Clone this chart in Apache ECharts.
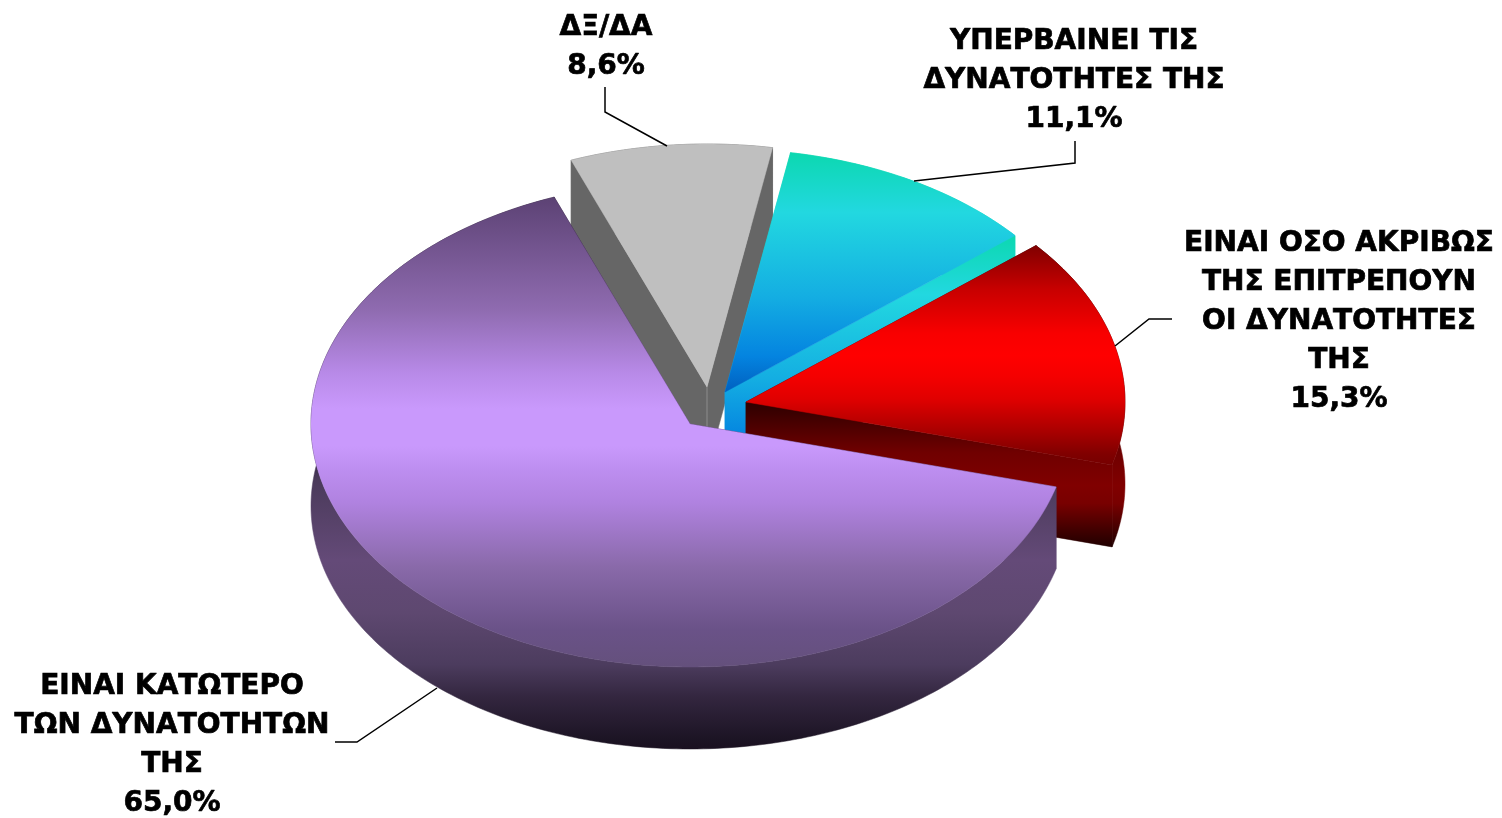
<!DOCTYPE html>
<html>
<head>
<meta charset="utf-8">
<style>html,body{margin:0;padding:0;background:#fff}#c{width:1502px;height:818px}</style>
<script src="https://cdn.jsdelivr.net/npm/echarts@6/dist/echarts.min.js"></script>
</head>
<body>
<div id="c"></div>
<script>
// Data: clockwise from the first slice, which is also the back-to-front paint order
const categories = ['ΔΞ/ΔΑ', 'ΥΠΕΡΒΑΙΝΕΙ ΤΙΣ\nΔΥΝΑΤΟΤΗΤΕΣ ΤΗΣ', 'ΕΙΝΑΙ ΟΣΟ ΑΚΡΙΒΩΣ\nΤΗΣ ΕΠΙΤΡΕΠΟΥΝ\nΟΙ ΔΥΝΑΤΟΤΗΤΕΣ\nΤΗΣ', 'ΕΙΝΑΙ ΚΑΤΩΤΕΡΟ\nΤΩΝ ΔΥΝΑΤΟΤΗΤΩΝ\nΤΗΣ'];
const percentages = [8.6, 11.1, 15.3, 65.0];

// Layout and style
const START_DEG = -21, RX = 379, RY = 243, DEPTH = 82;
const apex = [[707, 387], [725, 392], [746, 402], [690, 424]];
const labelPos = [[606, 46], [1074, 80], [1339, 321], [172, 744]];
const leaders = [
  [[605, 87], [605, 112], [667, 146]],
  [[1075, 141], [1075, 163], [914, 181]],
  [[1172, 319], [1149, 319], [1115, 346]],
  [[335, 742], [357, 742], [437, 688]]
];
const topStops = [
  [[0, '#bfbfbf'], [1, '#bfbfbf']],
  [[0, '#0cd8b0'], [0.25, '#22d8e0'], [0.6, '#14aee2'], [0.85, '#0484e0'], [1, '#0060c0']],
  [[0, '#800000'], [0.2, '#c80000'], [0.4, '#f80000'], [0.5, '#ff0000'], [0.6, '#f40000'], [0.7, '#e00000'], [0.85, '#a80000'], [0.95, '#800000'], [1, '#760000']],
  [[0, '#5c4274'], [0.24, '#8f6bb0'], [0.375, '#b88ae8'], [0.45, '#c999fc'], [0.53, '#c999fc'], [0.58, '#bd8ef0'], [0.65, '#b082e0'], [0.785, '#8a6aaa'], [0.92, '#6a5288'], [1, '#64507c']]
];
const wallStops = [
  [[0, '#666666'], [1, '#666666']],
  [[0, '#0cd8b0'], [0.25, '#22d8e0'], [0.6, '#14aee2'], [0.85, '#0484e0'], [1, '#0060c0']],
  [[0, '#2c0000'], [0.35, '#700000'], [0.58, '#800000'], [0.7, '#780000'], [0.88, '#420000'], [1, '#200000']],
  [[0, '#1c1224'], [0.05, '#201530'], [0.17, '#4a3a5a'], [0.42, '#644a78'], [0.58, '#5e4870'], [0.74, '#4c3c5e'], [0.84, '#33263f'], [0.97, '#1c1424'], [1, '#1a1020']]
];
const FONT = "'DejaVu Sans',sans-serif";

function grad(stops, y1, y2) {
  return { type: 'linear', global: true, x: 0, y: y1, x2: 0, y2: y2,
    colorStops: stops.map(s => ({ offset: s[0], color: s[1] })) };
}
function rim(c, deg) {
  const a = deg * Math.PI / 180;
  return [c[0] + RX * Math.sin(a), c[1] - RY * Math.cos(a)];
}
function down(p) { return [p[0], p[1] + DEPTH]; }

function startAngle(i) {
  let sum = 0, total = 0;
  percentages.forEach((v, k) => { total += v; if (k < i) sum += v; });
  return START_DEG + sum / total * 360;
}

function renderItem(params, api) {
  const i = params.dataIndex;
  const value = api.value(0);
  const a0 = startAngle(i), a1 = a0 + value / 100 * 360;
  const c = apex[i];
  const arc = [];
  const steps = Math.ceil(a1 - a0);
  for (let k = 0; k <= steps; k++) arc.push(rim(c, a0 + (a1 - a0) * k / steps));

  const ys = arc.map(p => p[1]).concat(c[1]);
  const yMin = Math.min.apply(null, ys), yMax = Math.max.apply(null, ys);
  const topFill = grad(topStops[i], yMin, yMax);
  const wallFill = i === 1 ? grad(wallStops[i], yMin + DEPTH, yMax + DEPTH)
                           : grad(wallStops[i], c[1], yMax + DEPTH);

  const first = arc[0], last = arc[arc.length - 1];
  const poly = (pts, fill) => ({ type: 'polygon', shape: { points: pts }, style: { fill: fill, stroke: fill, lineWidth: 0.5 } });
  const children = [
    poly([c, first, down(first), down(c)], wallFill),
    poly([c, last, down(last), down(c)], wallFill),
    poly(arc.concat(arc.slice().reverse().map(down)), wallFill),
  ];
  if (i === 0) {
    children.push({ type: 'line', shape: { x1: c[0], y1: c[1], x2: c[0], y2: c[1] + DEPTH }, style: { stroke: '#8c8c8c', lineWidth: 1 } });
  }
  children.push(poly([c].concat(arc), topFill));
  children.push({ type: 'polyline', shape: { points: leaders[i] }, style: { fill: null, stroke: '#000', lineWidth: 1.5 } });
  children.push({ type: 'text', x: labelPos[i][0], y: labelPos[i][1] + 1, style: {
    text: categories[i] + '\n' + value.toFixed(1).replace('.', ',') + '%',
    font: 'bold 28px ' + FONT, fill: '#000', stroke: '#000', lineWidth: 0.7,
    align: 'center', verticalAlign: 'middle', lineHeight: 39
  } });
  return { type: 'group', children: children };
}

const chart = echarts.init(document.getElementById('c'), null, { renderer: 'canvas' });
chart.setOption({
  animation: false,
  backgroundColor: '#fff',
  series: [{
    type: 'custom',
    coordinateSystem: 'none',
    silent: true,
    renderItem: renderItem,
    data: percentages.map(v => [v])
  }]
});
</script>
</body>
</html>
